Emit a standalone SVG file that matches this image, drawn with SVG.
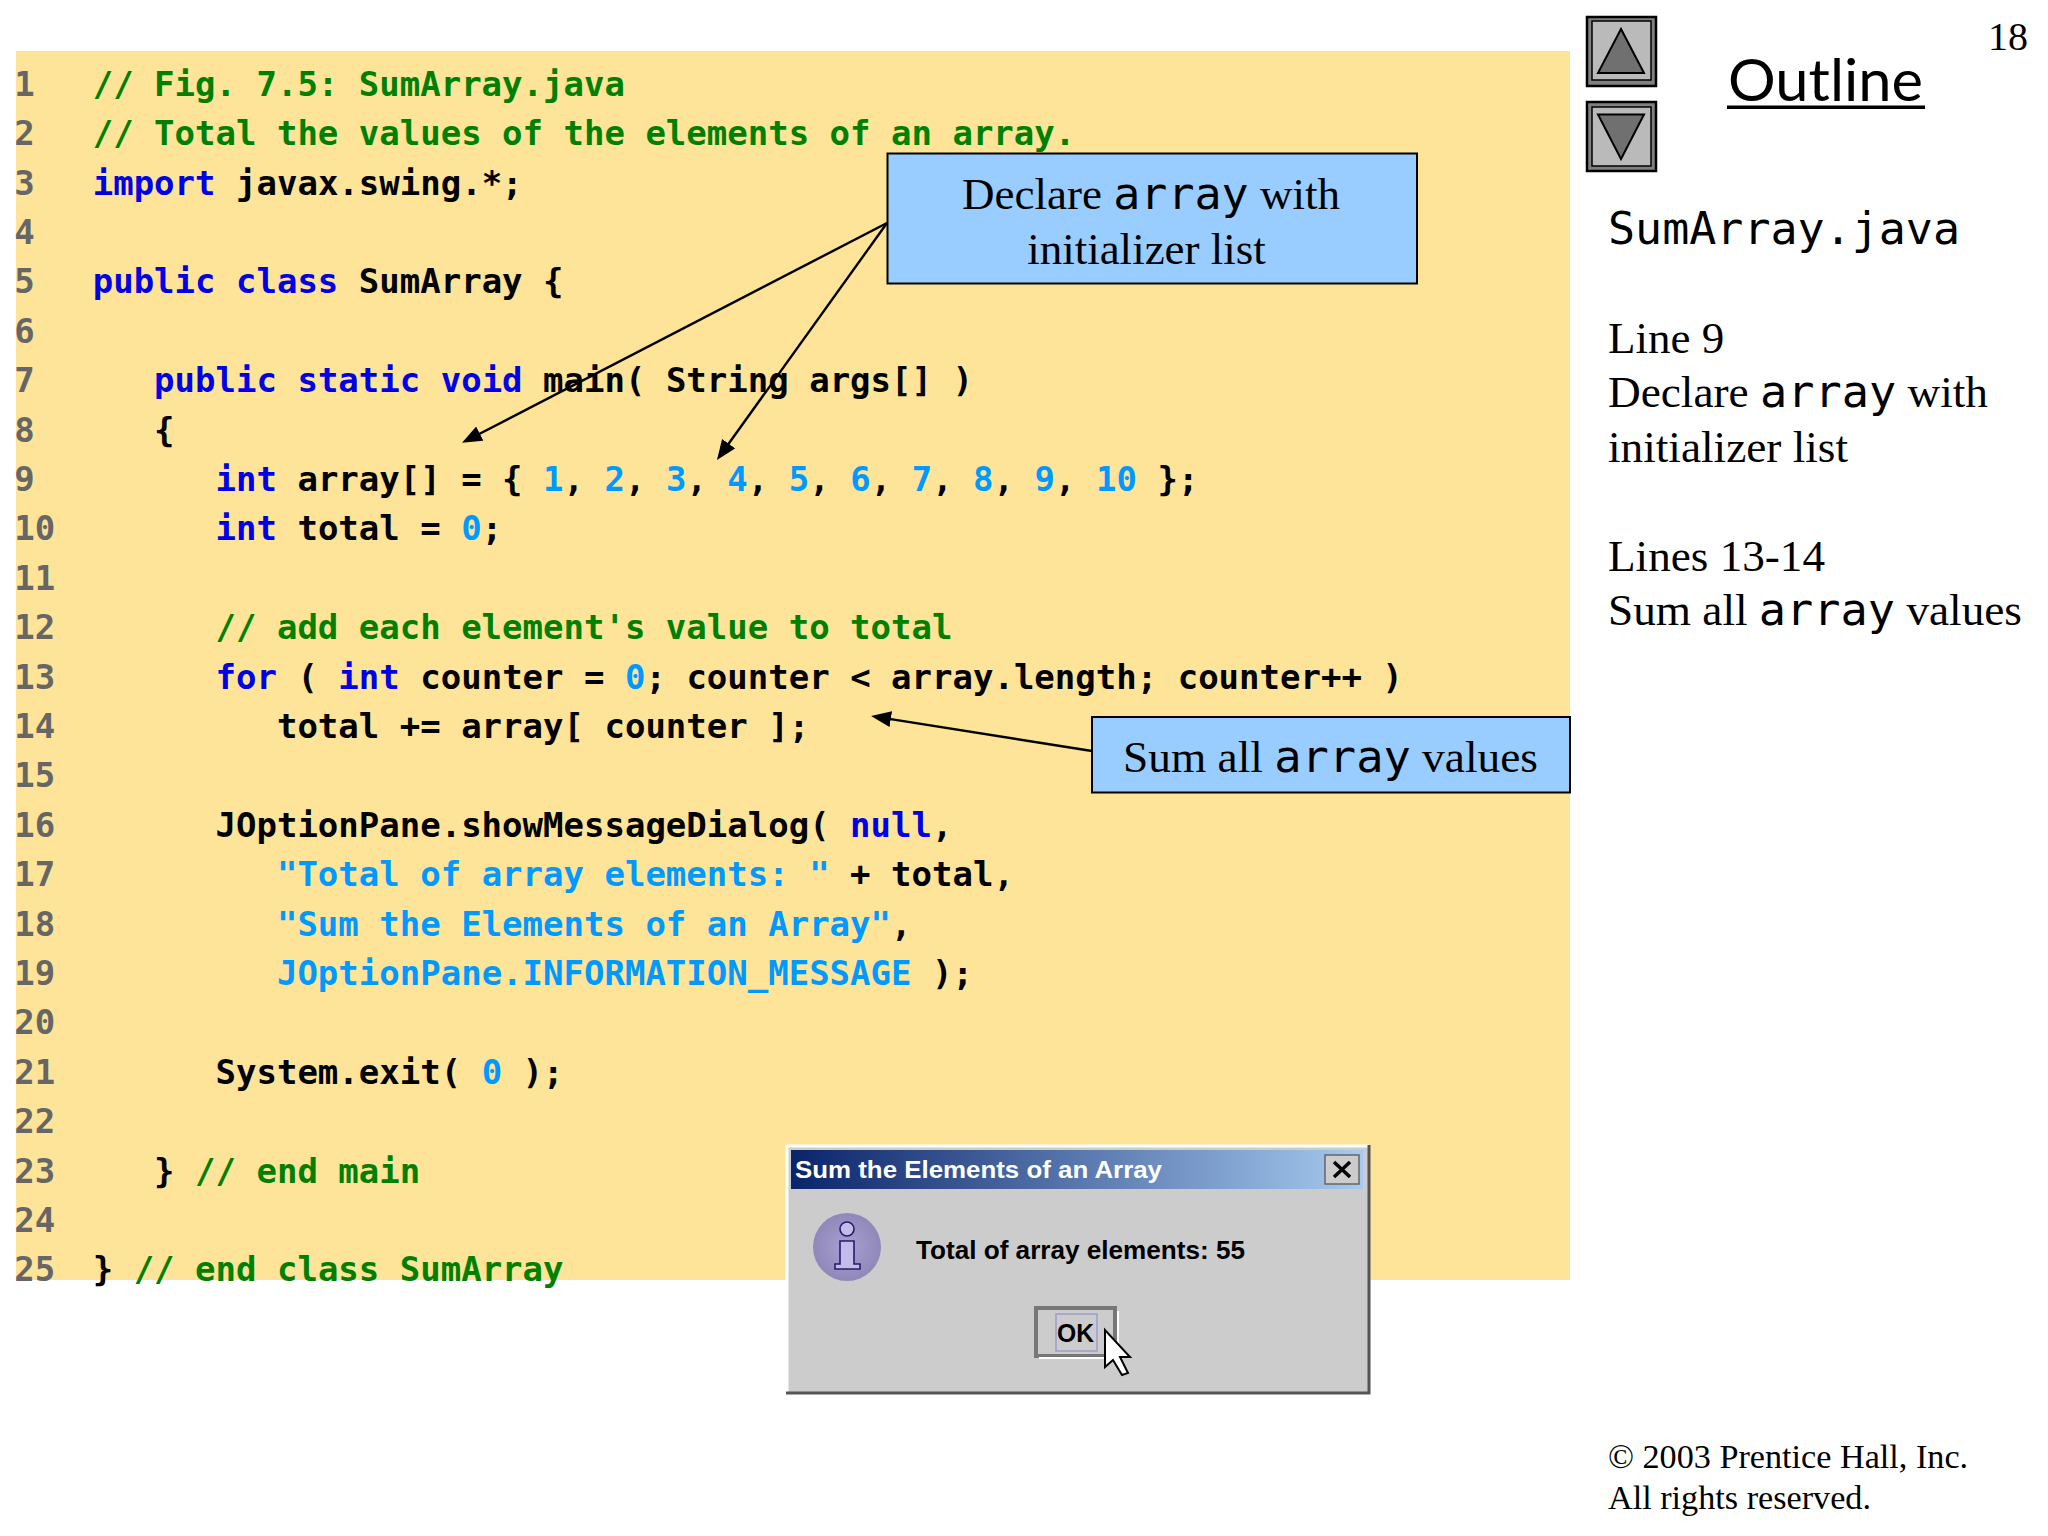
<svg xmlns="http://www.w3.org/2000/svg" width="2048" height="1536" viewBox="0 0 2048 1536">
<style>
.code{font-family:"DejaVu Sans Mono","Liberation Mono",monospace;font-size:34px;font-weight:bold;white-space:pre;fill:#000}
.n{fill:#666}.c{fill:#008000}.k{fill:#0000e6}.s{fill:#0099ff}
.serif{font-family:"Liberation Serif",serif;font-size:45px;fill:#000;white-space:pre}
.mono{font-family:"DejaVu Sans Mono","Liberation Mono",monospace;font-size:45px;font-weight:normal}
.callout{fill:#99ccff;stroke:#000;stroke-width:2}
.conn{fill:none;stroke:#000;stroke-width:2.4;marker-end:url(#head)}
.dlg{font-family:"Liberation Sans",Arial,sans-serif;font-weight:bold}
</style>
<defs>
<marker id="head" markerUnits="userSpaceOnUse" markerWidth="20" markerHeight="16" viewBox="0 0 20 16" refX="16" refY="8" orient="auto"><path d="M0 0L20 8L0 16Z" fill="#000"/></marker>
<linearGradient id="tb" x1="0" x2="1" y1="0" y2="0"><stop offset="0" stop-color="#0a246a"/><stop offset="1" stop-color="#a6caf0"/></linearGradient>
<radialGradient id="info"><stop offset="0" stop-color="#a8a0d0"/><stop offset="1" stop-color="#8f88b8"/></radialGradient>
</defs>
<rect width="2048" height="1536" fill="#fff"/>
<rect id="code-panel" x="16" y="51" width="1554" height="1229" fill="#fee498"/>
<g id="code" transform="translate(-0.8 1.4)">
<text class="code n" x="15" y="94.5">1</text><text class="code c" x="93.5" y="94.5">// Fig. 7.5: SumArray.java</text>
<text class="code n" x="15" y="143.9">2</text><text class="code c" x="93.5" y="143.9">// Total the values of the elements of an array.</text>
<text class="code n" x="15" y="193.3">3</text><text class="code" x="93.5" y="193.3"><tspan class="k">import</tspan> javax.swing.*;</text>
<text class="code n" x="15" y="242.7">4</text>
<text class="code n" x="15" y="292.1">5</text><text class="code" x="93.5" y="292.1"><tspan class="k">public class</tspan> SumArray {</text>
<text class="code n" x="15" y="341.5">6</text>
<text class="code n" x="15" y="390.9">7</text><text class="code" x="93.5" y="390.9">   <tspan class="k">public static void</tspan> main( String args[] )</text>
<text class="code n" x="15" y="440.3">8</text><text class="code" x="93.5" y="440.3">   {</text>
<text class="code n" x="15" y="489.7">9</text><text class="code" x="93.5" y="489.7">      <tspan class="k">int</tspan> array[] = { <tspan class="s">1</tspan>, <tspan class="s">2</tspan>, <tspan class="s">3</tspan>, <tspan class="s">4</tspan>, <tspan class="s">5</tspan>, <tspan class="s">6</tspan>, <tspan class="s">7</tspan>, <tspan class="s">8</tspan>, <tspan class="s">9</tspan>, <tspan class="s">10</tspan> };</text>
<text class="code n" x="15" y="539.1">10</text><text class="code" x="93.5" y="539.1">      <tspan class="k">int</tspan> total = <tspan class="s">0</tspan>;</text>
<text class="code n" x="15" y="588.5">11</text>
<text class="code n" x="15" y="637.9">12</text><text class="code c" x="93.5" y="637.9">      // add each element's value to total</text>
<text class="code n" x="15" y="687.3">13</text><text class="code" x="93.5" y="687.3">      <tspan class="k">for</tspan> ( <tspan class="k">int</tspan> counter = <tspan class="s">0</tspan>; counter &lt; array.length; counter++ )</text>
<text class="code n" x="15" y="736.7">14</text><text class="code" x="93.5" y="736.7">         total += array[ counter ];</text>
<text class="code n" x="15" y="786.1">15</text>
<text class="code n" x="15" y="835.5">16</text><text class="code" x="93.5" y="835.5">      JOptionPane.showMessageDialog( <tspan class="k">null</tspan>,</text>
<text class="code n" x="15" y="884.9">17</text><text class="code" x="93.5" y="884.9">         <tspan class="s">"Total of array elements: "</tspan> + total,</text>
<text class="code n" x="15" y="934.3">18</text><text class="code" x="93.5" y="934.3">         <tspan class="s">"Sum the Elements of an Array"</tspan>,</text>
<text class="code n" x="15" y="983.7">19</text><text class="code" x="93.5" y="983.7">         <tspan class="s">JOptionPane.INFORMATION_MESSAGE</tspan> );</text>
<text class="code n" x="15" y="1033.1">20</text>
<text class="code n" x="15" y="1082.5">21</text><text class="code" x="93.5" y="1082.5">      System.exit( <tspan class="s">0</tspan> );</text>
<text class="code n" x="15" y="1131.9">22</text>
<text class="code n" x="15" y="1181.3">23</text><text class="code" x="93.5" y="1181.3">   } <tspan class="c">// end main</tspan></text>
<text class="code n" x="15" y="1230.7">24</text>
<text class="code n" x="15" y="1280.1">25</text><text class="code" x="93.5" y="1280.1">} <tspan class="c">// end class SumArray</tspan></text>
</g>
<g id="connectors">
<path class="conn" d="M887 223L465.6 441"/>
<path class="conn" d="M887 223L719.3 456.7"/>
<path class="conn" d="M1092 751L875 716.6"/>
</g>
<g id="callout-declare">
<rect class="callout" x="887.500" y="153.5" width="529.500" height="130"/>
<text class="serif" x="1151" y="208.500" text-anchor="middle">Declare <tspan class="mono">array</tspan> with</text>
<text class="serif" x="1146.500" y="264" text-anchor="middle">initializer list</text>
</g>
<g id="callout-sum">
<rect class="callout" x="1092" y="717" width="478" height="75.500"/>
<text class="serif" x="1330.500" y="772" text-anchor="middle" textLength="415" lengthAdjust="spacingAndGlyphs">Sum all <tspan class="mono">array</tspan> values</text>
</g>
<g id="dialog">
<rect x="786" y="1145" width="584" height="249" fill="#ccc"/>
<path d="M787 1394V1146H1369" fill="none" stroke="#fff" stroke-width="3"/>
<path d="M786 1393H1369V1145" fill="none" stroke="#555" stroke-width="3"/>
<rect x="791" y="1150" width="572" height="39" fill="url(#tb)"/>
<text class="dlg" x="795" y="1178" font-size="24" fill="#fff" textLength="367" lengthAdjust="spacingAndGlyphs">Sum the Elements of an Array</text>
<rect x="1325" y="1155" width="34" height="29" fill="#ccc" stroke="#666" stroke-width="1.5"/>
<path d="M1334 1162L1350 1177M1350 1162L1334 1177" stroke="#000" stroke-width="3.500"/>
<ellipse cx="847" cy="1247" rx="34" ry="34" fill="url(#info)"/>
<g fill="#c4bce8" stroke="#2a1a6a" stroke-width="1.6"><circle cx="847" cy="1229" r="7"/><path d="M840 1241H854V1264H860V1269H835V1264H840Z"/></g>
<text class="dlg" x="916" y="1259" font-size="26" fill="#000" textLength="329" lengthAdjust="spacingAndGlyphs">Total of array elements: 55</text>
<rect x="1036" y="1308" width="79" height="48" fill="#ccc" stroke="#777" stroke-width="4"/>
<path d="M1039 1358H1118V1311" fill="none" stroke="#fff" stroke-width="2"/>
<rect x="1056" y="1314" width="41" height="37" fill="none" stroke="#9c9ccc" stroke-width="1.5"/>
<text class="dlg" x="1057" y="1342" font-size="26" fill="#000" textLength="37" lengthAdjust="spacingAndGlyphs">OK</text>
<path d="M1105 1330V1367L1113 1360L1122 1375L1128 1373L1120 1357H1130Z" fill="#fff" stroke="#000" stroke-width="2"/>
</g>
<g id="nav-up">
<rect x="1587" y="17" width="69" height="69" fill="#808080" stroke="#000" stroke-width="2.500"/>
<rect x="1592" y="21" width="59" height="59" fill="#bababa" stroke="#000" stroke-width="1.5"/>
<path d="M1621 29L1598 73H1644Z" fill="#707070" stroke="#000" stroke-width="2"/>
</g>
<g id="nav-down">
<rect x="1587" y="102" width="69" height="69" fill="#808080" stroke="#000" stroke-width="2.500"/>
<rect x="1592" y="107" width="59" height="59" fill="#bababa" stroke="#000" stroke-width="1.5"/>
<path d="M1621 159L1598 114.500H1644Z" fill="#707070" stroke="#000" stroke-width="2"/>
</g>
<g id="outline">
<text x="1728" y="100.500" font-family="Lato,'Liberation Sans',sans-serif" font-size="58" font-weight="400" fill="#000" textLength="195" lengthAdjust="spacingAndGlyphs">Outline</text>
<rect x="1727" y="105.500" width="198" height="3.500" fill="#000"/>
<text class="serif" x="1988" y="50" style="font-size:40px">18</text>
<text class="mono" x="1608" y="244" style="white-space:pre;fill:#000" textLength="352" lengthAdjust="spacing">SumArray.java</text>
<text class="serif" x="1608" y="352.500">Line 9</text>
<text class="serif" x="1608" y="406.500" textLength="380" lengthAdjust="spacingAndGlyphs">Declare <tspan class="mono">array</tspan> with</text>
<text class="serif" x="1608" y="461.500" textLength="240" lengthAdjust="spacingAndGlyphs">initializer list</text>
<text class="serif" x="1608" y="570.500" textLength="217" lengthAdjust="spacingAndGlyphs">Lines 13-14</text>
<text class="serif" x="1608" y="624.500" textLength="414" lengthAdjust="spacingAndGlyphs">Sum all <tspan class="mono">array</tspan> values</text>
<text class="serif" x="1608" y="1468" style="font-size:34.200px">© 2003 Prentice Hall, Inc.</text>
<text class="serif" x="1608" y="1509" style="font-size:34.200px">All rights reserved.</text>
</g>
</svg>
